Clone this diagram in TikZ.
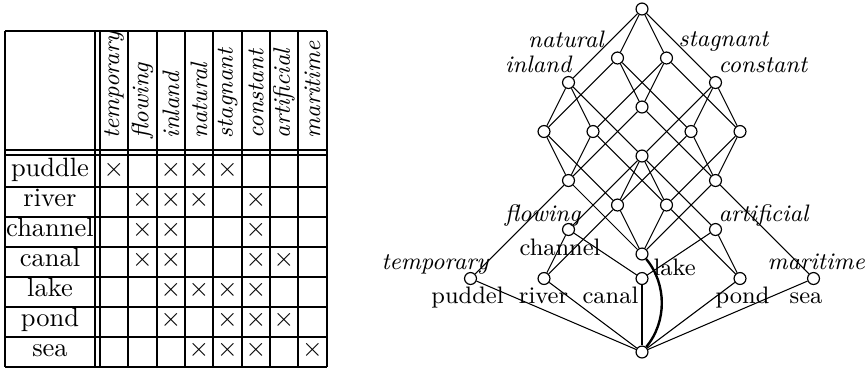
\documentclass[tikz,border=0pt]{standalone}
\begin{document}
\begin{tikzpicture}[x=0.3777pt,y=-0.3777pt,
  cn/.style={circle,draw,fill=white,inner sep=0pt,minimum size=4.5pt,line width=0.45pt},
  edge/.style={line width=0.4pt},
  att/.style={font=\fontsize{9}{10}\selectfont\itshape,inner sep=0pt},
  obj/.style={font=\fontsize{9}{10}\selectfont,inner sep=0pt},
  tabrule/.style={line width=0.75pt},
  hdr/.style={font=\fontsize{9}{10}\selectfont\itshape,rotate=90,anchor=west,inner sep=0pt},
  rowlab/.style={font=\fontsize{10}{12}\selectfont,inner sep=0pt,anchor=base},
  crossmark/.style={font=\fontsize{10}{12}\selectfont,inner sep=0pt,anchor=base}]
\useasboundingbox (0,0) rectangle (867,370);

% ---------------- table ----------------
\foreach \xx in {5,95,100,128,157,185,213,242,270,298,327}
  \draw[tabrule] (\xx,31) -- (\xx,366.5);
\foreach \yy in {31,150,155,186.5,216.5,246.5,276.5,306.5,336.5,366.5}
  \draw[tabrule] (5,\yy) -- (327,\yy);

\foreach \w [count=\k] in {temporary,flowing,inland,natural,stagnant,constant,artificial,maritime}{
  \pgfmathsetmacro{\cx}{{114,142.5,171,199,227.5,256,284,312.5}[\k-1]}
  \node[hdr] (h\k) at (\cx,139) {\w};
}
\foreach \o/\bl [count=\k] in {puddle/176.5,river/206.5,channel/236.5,canal/266.5,lake/296.5,pond/326.5,sea/356.5}
  \node[rowlab] (r\k) at (50,\bl) {\o};

\foreach \r/\bl/\cols in {1/176.5/{1,3,4,5},2/206.5/{2,3,4,6},3/236.5/{2,3,6},4/266.5/{2,3,6,7},5/296.5/{3,4,5,6},6/326.5/{3,5,6,7},7/356.5/{4,5,6,8}}{
  \foreach \c in \cols {
    \pgfmathsetmacro{\cx}{{114,142.5,171,199,227.5,256,284,312.5}[\c-1]}
    \node[crossmark] (x\r-\c) at (\cx,\bl) {$\times$};
  }
}

% ---------------- lattice ----------------
\coordinate (pTop) at (642,9);
\coordinate (pN) at (617.5,58);
\coordinate (pS) at (666.5,58);
\coordinate (pI) at (568.5,82.5);
\coordinate (pC) at (715.5,82.5);
\coordinate (pNS) at (642,107);
\coordinate (pIN) at (544,131.5);
\coordinate (pIS) at (593,131.5);
\coordinate (pNC) at (691,131.5);
\coordinate (pSC) at (740,131.5);
\coordinate (pIC) at (642,156);
\coordinate (pINS) at (568.5,180.5);
\coordinate (pNSC) at (715.5,180.5);
\coordinate (pINC) at (617.5,205);
\coordinate (pISC) at (666.5,205);
\coordinate (pF) at (568.5,229.5);
\coordinate (pA) at (715.5,229.5);
\coordinate (pLake) at (642,254);
\coordinate (pPuddle) at (470.5,278.5);
\coordinate (pRiver) at (544,278.5);
\coordinate (pCanal) at (642,278.5);
\coordinate (pPond) at (740,278.5);
\coordinate (pSea) at (813.5,278.5);
\coordinate (pBot) at (642,352);

\foreach \n in {Top,N,S,I,C,NS,IN,IS,NC,SC,IC,INS,NSC,INC,ISC,F,A,Lake,Puddle,River,Canal,Pond,Sea,Bot}
  \node[cn] (\n) at (p\n) {};

\foreach \a/\b in {Top/N,Top/S,Top/I,Top/C,
  N/NS,N/IN,N/NC, S/NS,S/IS,S/SC, I/IN,I/IS,I/IC, C/IC,C/NC,C/SC,
  NS/INS,NS/NSC, IN/INS,IN/INC, IS/INS,IS/ISC, NC/INC,NC/NSC, SC/ISC,SC/NSC,
  IC/INC,IC/ISC,IC/F,IC/A,
  INS/Lake,INS/Puddle, NSC/Lake,NSC/Sea, INC/Lake,INC/River, ISC/Lake,ISC/Pond,
  F/River,F/Canal, A/Canal,A/Pond,
  Puddle/Bot,River/Bot,Canal/Bot,Pond/Bot,Sea/Bot}
  \draw[edge] (\a) -- (\b);
\draw[line width=0.9pt] (Lake) .. controls (667,284) and (667,322) .. (Bot);

% attribute labels
\node[att,anchor=base east] (lNatural) at (604,47) {natural};
\node[att,anchor=base west] (lStagnant) at (678,46.5) {stagnant};
\node[att,anchor=base east] (lInland) at (572,72) {inland};
\node[att,anchor=base west] (lConstant) at (718,72) {constant};
\node[att,anchor=base east] (lFlowing) at (581,221) {flowing};
\node[att,anchor=base west] (lArtificial) at (718,221) {artificial};
\node[att,anchor=base east] (lTemporary) at (489,269.5) {temporary};
\node[att,anchor=base west] (lMaritime) at (767,269.5) {maritime};
% object labels
\node[obj,anchor=base] (lChannel) at (560,255) {channel};
\node[obj,anchor=base] (lPuddel) at (467.5,303) {puddel};
\node[obj,anchor=base] (lRiver) at (543.5,303) {river};
\node[obj,anchor=base] (lCanal) at (610.5,303) {canal};
\node[obj,anchor=base west] (lLake) at (653,275) {lake};
\node[obj,anchor=base] (lPond) at (742.5,303) {pond};
\node[obj,anchor=base] (lSea) at (806,303) {sea};
\end{tikzpicture}
\end{document}
